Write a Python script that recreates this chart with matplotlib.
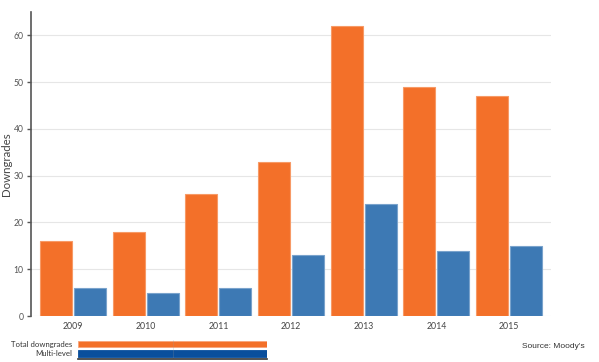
import numpy as np
import matplotlib.pyplot as plt

# datos
years = ["2009", "2010", "2011", "2012", "2013", "2014", "2015"]
total_downgrades = [16, 18, 26, 33, 62, 49, 47]
multi_level = [6, 5, 6, 13, 24, 14, 15]
series_names = ["Total downgrades", "Multi-level"]

ORANGE = "#f37029"
BLUE = "#3d79b4"
BLUE_LEGEND = "#0a4f9c"
W, H = 599, 362

plt.rcParams["font.family"] = ["Lato", "DejaVu Sans"]

fig = plt.figure(figsize=(W / 100, H / 100), dpi=100)
fig.patch.set_facecolor("white")
ax = fig.add_axes([31 / W, (H - 316) / H, (551 - 31) / W, (316 - 12) / H])

x = np.arange(len(years))
bw = 0.44
ax.bar(x - bw / 2 - 0.012, total_downgrades, width=bw, color=ORANGE,
       edgecolor="#f79a66", linewidth=0.8, zorder=3)
ax.bar(x + bw / 2 + 0.012, multi_level, width=bw, color=BLUE,
       edgecolor="#7aa3cc", linewidth=0.8, zorder=3)

ax.set_xlim(-0.578, len(years) - 1 + 0.578)
ax.set_ylim(0, 65)
ax.set_yticks(range(0, 61, 10))
ax.set_xticks(x)
ax.set_xticklabels(years)

ax.grid(axis="y", color="#e6e6e6", linewidth=0.8, zorder=0)
ax.set_axisbelow(True)
for s in ["top", "right", "bottom"]:
    ax.spines[s].set_visible(False)
ax.spines["left"].set_color("#555555")
ax.spines["left"].set_linewidth(1.2)
ax.tick_params(axis="y", length=3, width=1, color="#555555",
               labelsize=6.2, labelcolor="#555555", pad=2.5)
ax.tick_params(axis="x", length=0, labelsize=6.3, labelcolor="#444444", pad=4)
ax.set_ylabel("Downgrades", fontsize=8.3, color="#444444")
ax.yaxis.set_label_coords((12.5 - 31) / (551 - 31), 0.5)

# leyenda dibujada a mano
lax = fig.add_axes([78 / W, (H - 359) / H, (267 - 78) / W, (359 - 340) / H])
lax.barh([1, 0], [1, 1], height=0.68, color=[ORANGE, BLUE_LEGEND],
         edgecolor=["#f9a57a", BLUE_LEGEND], linewidth=0.6)
lax.set_xlim(0, 1)
lax.set_ylim(-0.58, 1.42)
lax.axvline(0.5, color="#999999", linewidth=0.4, alpha=0.4)
lax.set_yticks([1, 0])
lax.set_yticklabels(series_names)
lax.tick_params(axis="y", length=0, labelsize=5.6, labelcolor="#333333", pad=4)
lax.set_xticks([])
for s in ["top", "right", "left"]:
    lax.spines[s].set_visible(False)
lax.spines["bottom"].set_color("#333333")
lax.spines["bottom"].set_linewidth(1.2)

fig.text(585 / W, 1 - 347 / H, "Source: Moody's", ha="right", va="center",
         fontsize=6, color="#333333", family="Liberation Sans")

plt.savefig("out.png", dpi=100)
